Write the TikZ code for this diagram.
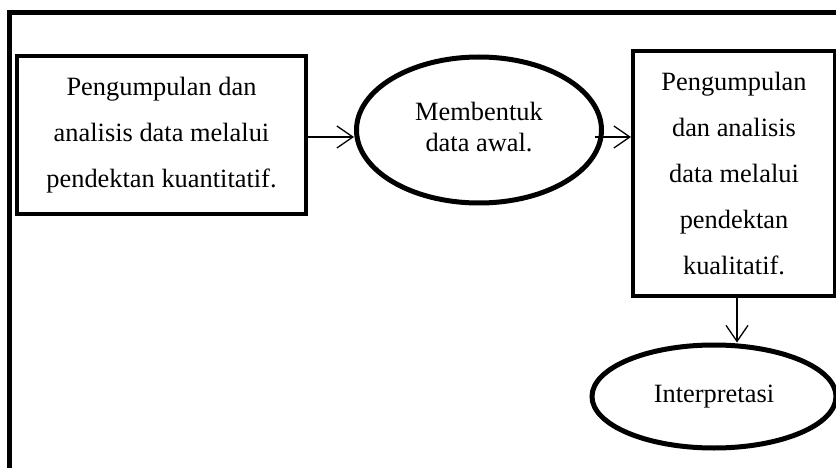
\documentclass[tikz,border=0pt]{standalone}
\usepackage{fontspec}
\setmainfont{Liberation Serif}
\usetikzlibrary{shapes.geometric,arrows.meta}

\begin{document}
\begin{tikzpicture}[x=1pt,y=-1pt,
    kotak/.style={draw, line width=4pt, rectangle, align=center, inner sep=0pt, font=\fontsize{26.4}{46}\selectfont},
    elips/.style={draw, line width=5pt, ellipse, align=center, inner sep=0pt, font=\fontsize{26.4}{31}\selectfont},
    alur/.style={line width=1.3pt, -{Straight Barb[length=16pt,width=22pt,line width=1.3pt]}}]
    \useasboundingbox (0,0) rectangle (836,468);
    \clip (0,0) rectangle (836,468);
    \draw[line width=5pt] (9,12.5) rectangle (860,490);
    \coordinate (k1) at (161.5,135);
    \coordinate (e1) at (479,130);
    \coordinate (k2) at (734,173.5);
    \coordinate (e2) at (714,396.5);
    \node[kotak, minimum width=289pt, minimum height=158pt] (kuan) at (k1)
        {Pengumpulan dan\\analisis data melalui\\pendektan kuantitatif.};
    \node[elips, minimum width=245pt, minimum height=146pt] (awal) at (e1)
        {\raisebox{13pt}{\begin{tabular}{@{}c@{}}Membentuk\\data awal.\end{tabular}}};
    \node[kotak, minimum width=202pt, minimum height=245pt] (kual) at (k2)
        {Pengumpulan\\dan analisis\\data melalui\\pendektan\\kualitatif.};
    \node[elips, minimum width=244pt, minimum height=103pt] (interp) at (e2)
        {Interpretasi};
    \draw[alur] ([yshift=-2pt]kuan.east) -- ([yshift=-7pt]awal.west);
    \draw[alur] ([xshift=-9pt,yshift=-7pt]awal.east) -- ([yshift=-7pt]kual.west |- awal.east);
    \draw[alur] ([xshift=3pt]kual.south) -- ([xshift=3pt]kual.south |- interp.north);
\end{tikzpicture}
\end{document}
